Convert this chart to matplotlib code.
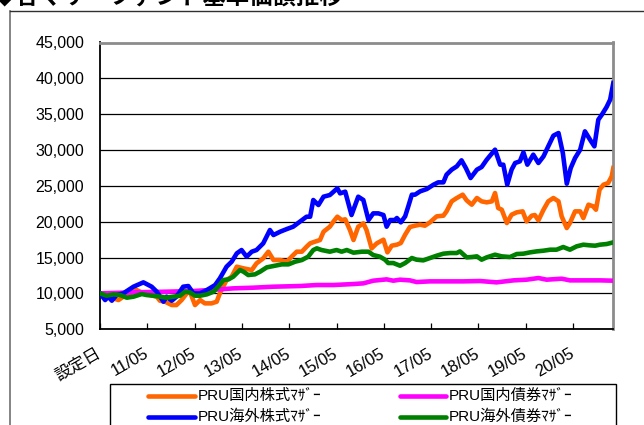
import matplotlib
matplotlib.use("Agg")
import matplotlib.pyplot as plt
from matplotlib.lines import Line2D
from matplotlib.patches import Rectangle
from matplotlib.ticker import FuncFormatter

plt.rcParams['font.family'] = ['Liberation Sans', 'Noto Sans CJK JP', 'DejaVu Sans']

# ---- data (month index from 設定日, value) ----
title = "◆各マザーファンド基準価額推移"
x_tick_months = [0, 12, 24, 36, 48, 60, 72, 84, 96, 108, 120]
x_tick_labels = ["設定日", "11/05", "12/05", "13/05", "14/05", "15/05",
                 "16/05", "17/05", "18/05", "19/05", "20/05"]
series_names = ["PRU国内株式ﾏｻﾞｰ", "PRU国内債券ﾏｻﾞｰ", "PRU海外株式ﾏｻﾞｰ", "PRU海外債券ﾏｻﾞｰ"]
series_colors = ["#FF6600", "#FF00FF", "#0000FF", "#008000"]

jp_stock_m = [0, 1.7, 3.4, 4.7, 5.9, 7.6, 9.3, 11.0, 12.7, 14.4, 15.2, 16.5, 18.2, 19.4, 20.7,
              22.0, 22.8, 24.1, 25.4, 26.6, 28.3, 29.6, 30.4, 32.1, 33.4, 34.7, 36.4, 38.5,
              39.7, 41.4, 42.7, 44.0, 45.7, 47.4, 48.6, 49.9, 51.2, 52.4, 53.3, 54.5, 55.8,
              56.7, 58.3, 59.2, 60.2, 61.3, 62.2, 63.4, 64.3, 65.5, 66.8, 67.6, 68.9, 70.2,
              71.9, 72.9, 74.0, 75.3, 76.3, 77.4, 78.6, 79.9, 81.2, 82.4, 83.7, 85.4, 87.1,
              87.9, 89.2, 90.5, 92.0, 93.0, 94.3, 95.6, 96.8, 98.1, 99.4, 100.2, 101.0, 101.9,
              103.2, 104.4, 105.7, 107.2, 108.2, 109.5, 110.3, 111.2, 112.5, 113.7, 115.0,
              116.3, 117.1, 118.4, 119.2, 120.5, 121.8, 122.6, 123.9, 125.1, 125.8, 126.7,
              127.7, 128.9, 129.8, 130.2]
jp_stock_v = [10000, 9535, 9302, 9070, 9535, 10000, 10465, 10000, 9767, 9535, 8977, 8837, 8372,
              8372, 9070, 10000, 10233, 8372, 9070, 8605, 8605, 8837, 10000, 11860, 12326, 13721,
              13488, 13256, 14186, 14884, 15814, 14651, 14651, 14418, 15116, 15814, 15814, 16511,
              16977, 17209, 17442, 18604, 19302, 20000, 20697, 20232, 20325, 18837, 17442, 19302,
              19767, 18837, 16279, 16977, 17488, 15721, 16651, 16790, 17023, 18186, 19255, 19441,
              19581, 19441, 19907, 20744, 20837, 21441, 22837, 23302, 23767, 22976, 22372, 23302,
              22837, 22697, 22837, 24000, 21906, 21674, 19814, 20976, 21302, 21441, 20046, 20837,
              20930, 20186, 21674, 22837, 23302, 22837, 20744, 19116, 19814, 21441, 21441, 20511,
              22372, 22139, 21674, 24465, 25162, 25395, 26325, 27488]

jp_bond_m = [0, 8.5, 16.9, 23.7, 30.4, 33.8, 38.9, 44.0, 50.7, 55.0, 59.2, 64.3, 66.8, 69.3,
             71.0, 72.7, 74.4, 76.1, 78.6, 80.3, 83.7, 87.9, 92.2, 96.4, 100.6, 104.9, 108.2,
             111.2, 113.3, 117.1, 119.2, 123.5, 126.8, 130.2]
jp_bond_v = [10000, 10140, 10233, 10326, 10558, 10698, 10791, 10930, 11023, 11163, 11163, 11302,
             11395, 11767, 11860, 11953, 11767, 11907, 11814, 11581, 11674, 11674, 11674, 11721,
             11535, 11814, 11907, 12140, 11907, 12046, 11814, 11814, 11814, 11767]

fx_stock_m = [0, 1.3, 2.1, 3.0, 4.2, 5.9, 8.5, 11.0, 13.1, 14.4, 16.1, 16.9, 18.2, 19.4, 21.1,
              22.4, 23.7, 25.4, 27.1, 29.2, 30.4, 32.1, 33.4, 34.7, 35.9, 37.2, 38.5, 39.7,
              41.4, 43.1, 44.0, 45.7, 47.4, 49.0, 50.7, 52.4, 53.3, 54.1, 55.4, 56.7, 58.3,
              60.2, 60.9, 62.2, 63.8, 65.5, 66.8, 68.1, 69.3, 70.6, 71.9, 72.7, 73.6, 74.8,
              75.3, 76.3, 77.4, 78.2, 79.1, 79.9, 81.2, 82.9, 84.6, 85.8, 87.1, 87.9, 89.2,
              90.5, 91.7, 92.8, 94.0, 95.6, 96.8, 98.1, 100.2, 101.5, 102.3, 103.3, 104.4,
              105.3, 106.5, 107.4, 108.4, 109.9, 111.2, 112.5, 113.7, 115.0, 116.3, 117.4,
              118.4, 119.4, 120.5, 121.8, 123.0, 124.3, 125.4, 126.4, 127.3, 128.5, 129.4, 130.2]
fx_stock_v = [10000, 9070, 9535, 8977, 9767, 10000, 10930, 11535, 10930, 10233, 8837, 9535, 8977,
              9535, 10930, 11023, 10000, 10000, 10465, 11163, 12093, 13721, 14418, 15581, 16046,
              15116, 15814, 16046, 16977, 18837, 18139, 18604, 18976, 19302, 20000, 20697, 20697,
              23023, 22325, 23488, 23720, 24651, 23953, 24186, 20930, 23488, 23023, 20232, 21162,
              21162, 20930, 19302, 20232, 20232, 20511, 19907, 20744, 22139, 23767, 23767, 24232,
              24558, 25162, 25488, 25488, 26558, 27255, 27720, 28558, 27488, 26093, 27255, 27627,
              28651, 30046, 27953, 27953, 25162, 27255, 28186, 28418, 29674, 27953, 29348, 28186,
              29116, 30511, 32000, 32371, 29581, 25302, 27488, 28883, 30046, 32604, 31441, 30511,
              34232, 34930, 36000, 37023, 39348]

fx_bond_m = [0, 1.7, 3.4, 5.1, 6.8, 8.5, 10.6, 11.8, 13.5, 15.2, 16.9, 18.6, 20.3, 21.6, 22.8,
             24.1, 25.4, 27.1, 28.8, 30.0, 31.3, 32.6, 33.8, 35.5, 36.4, 37.6, 39.3, 40.6, 42.3,
             44.0, 46.1, 47.8, 49.5, 51.2, 52.8, 54.1, 55.0, 56.2, 58.3, 60.0, 61.3, 62.6, 64.3,
             66.4, 68.1, 69.3, 71.0, 72.3, 73.1, 74.4, 76.1, 77.4, 79.1, 80.3, 82.0, 83.7, 85.4,
             87.1, 88.8, 90.5, 91.3, 93.0, 94.3, 95.6, 96.8, 98.1, 100.2, 101.9, 104.0, 105.7,
             107.4, 109.1, 110.8, 112.5, 114.2, 115.8, 117.5, 119.2, 120.9, 122.6, 124.3, 125.6,
             126.8, 128.5, 130.2]
fx_bond_v = [10000, 9674, 9860, 9767, 9395, 9535, 9907, 9767, 9674, 9535, 9395, 9535, 9674, 10233,
             10140, 9674, 9674, 9860, 10233, 10930, 11860, 11953, 12326, 13256, 13023, 12558,
             12651, 13023, 13628, 13814, 14046, 14046, 14418, 14651, 15116, 16046, 16279, 16046,
             15814, 16046, 15814, 16046, 15674, 15814, 15814, 15349, 15116, 14698, 14232, 14232,
             13860, 14232, 14930, 14698, 14604, 14930, 15256, 15535, 15628, 15628, 15860, 15023,
             15070, 15163, 14698, 15023, 15395, 15163, 15070, 15488, 15535, 15721, 15860, 15953,
             16093, 16093, 16465, 16093, 16558, 16790, 16697, 16651, 16790, 16883, 17116]

W, H = 644, 425
def fx(px):
    return px / W
def fy(py):
    return 1 - py / H

fig = plt.figure(figsize=(W / 100, H / 100), dpi=100)
ax = fig.add_axes([fx(100), fy(329.2), 513.3 / W, 286.7 / H])

ax.plot(jp_stock_m, jp_stock_v, color=series_colors[0], lw=3.3, solid_joinstyle='round', zorder=3)
ax.plot(jp_bond_m, jp_bond_v, color=series_colors[1], lw=3.3, solid_joinstyle='round', zorder=3)
ax.plot(fx_stock_m, fx_stock_v, color=series_colors[2], lw=3.3, solid_joinstyle='round', zorder=3)
ax.plot(fx_bond_m, fx_bond_v, color=series_colors[3], lw=3.3, solid_joinstyle='round', zorder=3)

ax.set_xlim(0, 130.2)
ax.set_ylim(5000, 45000)
ax.set_yticks(range(5000, 45001, 5000))
ax.yaxis.set_major_formatter(FuncFormatter(lambda v, p: f"{int(v):,}"))
ax.grid(axis='y', color='black', lw=0.9, zorder=1)
ax.set_axisbelow(True)
ax.tick_params(axis='y', length=0, pad=11.5, labelsize=11.5, colors='black')
ax.set_xticks(x_tick_months)
ax.set_xticklabels(x_tick_labels)
ax.tick_params(axis='x', direction='in', length=4, width=0.9, pad=16.5, labelsize=12)
for lab in ax.get_xticklabels():
    lab.set_rotation(30)
    lab.set_ha('right')
    lab.set_va('center')
    lab.set_rotation_mode('anchor')
for s in ['left', 'bottom']:
    ax.spines[s].set_color('black')
    ax.spines[s].set_linewidth(1.3)
for s in ['top', 'right']:
    ax.spines[s].set_color('#8c8c8c')
    ax.spines[s].set_linewidth(2.0)

# outer frame (extends beyond the image on right and bottom)
fig.add_artist(Line2D([fx(10), fx(10)], [fy(11), fy(430)], color='#707070', lw=1.2))
fig.add_artist(Line2D([fx(10), fx(650)], [fy(11), fy(11)], color='#303030', lw=1.0))

# title (cut off at the top edge)
fig.text(fx(-7), fy(3), title, fontsize=16.8, fontweight='bold', va='baseline', ha='left')

# legend box drawn manually
fig.add_artist(Rectangle((fx(110), fy(440)), (616 - 110) / W, (440 - 384) / H,
                         transform=fig.transFigure, fill=False, edgecolor='black', lw=1.0))
leg_rows = [396, 417]
leg_cols = [(148, 195), (400, 446)]
order = [(0, 0, 0), (1, 0, 1), (2, 1, 0), (3, 1, 1)]
for idx, r, c in order:
    x0, x1 = leg_cols[c]
    y = leg_rows[r]
    fig.add_artist(Line2D([fx(x0), fx(x1)], [fy(y), fy(y)], color=series_colors[idx], lw=3.3,
                          solid_capstyle='round'))
    fig.text(fx(x1 + 3), fy(y), series_names[idx], fontsize=11, va='center', ha='left')

fig.savefig("out.png", dpi=100)
